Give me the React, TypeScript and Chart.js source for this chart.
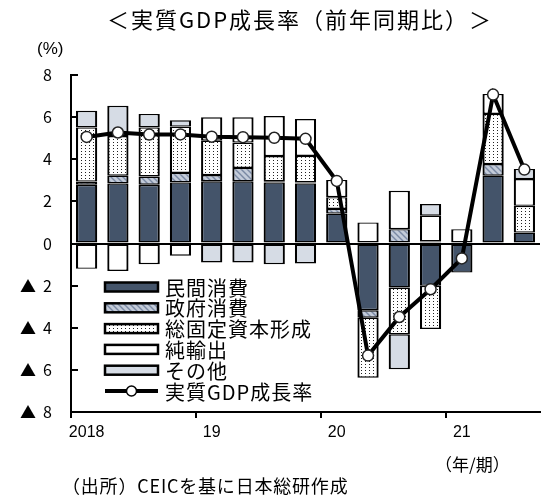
import React, { useEffect, useRef } from "react";
import { Chart, registerables } from "chart.js";

Chart.register(...registerables);

// ---- Data ----
const quarterLabels = ["2018", "", "", "", "19", "", "", "", "20", "", "", "", "21", "", ""];
const seriesNames = ["民間消費", "政府消費", "総固定資本形成", "純輸出", "その他"];
const gdpName = "実質GDP成長率";

const privateConsumption = [2.79, 2.85, 2.79, 2.9, 2.95, 2.95, 2.9, 2.85, 1.42, -3.17, -2.09, -2.01, -1.38, 3.22, 0.52];
const governmentConsumption = [0.15, 0.37, 0.39, 0.45, 0.3, 0.64, 0.05, 0.05, 0.22, -0.35, 0.68, 0.1, null, 0.55, null];
const fixedCapital = [2.57, 1.88, 2.33, 2.2, 1.63, 1.2, 1.2, 1.26, 0.56, -2.85, -2.22, -2.05, null, 2.38, 1.27];
const netExports = [-1.2, -1.3, -0.98, -0.58, 1.11, 1.2, 1.9, 1.75, 0.82, 1.0, 1.82, 1.22, 0.68, 0.95, 1.27];
const others = [0.79, 1.44, 0.64, 0.3, -0.9, -0.9, -0.98, -0.95, null, null, -1.66, 0.55, null, null, 0.48];
const gdpGrowth = [5.06, 5.27, 5.17, 5.18, 5.07, 5.05, 5.02, 4.97, 2.97, -5.32, -3.49, -2.17, -0.71, 7.07, 3.51];

const yMin = -8;
const yMax = 8;
const yStep = 2;

const TICK_FONT = "'Liberation Sans', 'Noto Sans CJK JP', sans-serif";
const JP_FONT = "'Noto Sans CJK JP', sans-serif";

function makeHatch(): CanvasPattern | string {
  const c = document.createElement("canvas");
  c.width = 6;
  c.height = 6;
  const g = c.getContext("2d");
  if (!g) return "#B4BECF";
  g.fillStyle = "#C3CBD9";
  g.fillRect(0, 0, 6, 6);
  g.strokeStyle = "#7A89A3";
  g.lineWidth = 1.4;
  g.beginPath();
  g.moveTo(-1, -1);
  g.lineTo(7, 7);
  g.moveTo(-4, 2);
  g.lineTo(4, 10);
  g.moveTo(2, -4);
  g.lineTo(10, 4);
  g.stroke();
  return g.createPattern(c, "repeat") || "#B4BECF";
}

function makeDots(): CanvasPattern | string {
  const c = document.createElement("canvas");
  c.width = 4;
  c.height = 3;
  const g = c.getContext("2d");
  if (!g) return "#ffffff";
  g.fillStyle = "#ffffff";
  g.fillRect(0, 0, 4, 3);
  g.fillStyle = "#222222";
  g.fillRect(1, 1, 1, 1);
  return g.createPattern(c, "repeat") || "#ffffff";
}

const legendPlugin = {
  id: "insideLegend",
  afterDatasetsDraw(chart: any) {
    const ctx = chart.ctx as CanvasRenderingContext2D;
    const area = chart.chartArea;
    const x0 = area.left + 34;
    const w = 53;
    const h = 9;
    const y0 = 287;
    const gap = 20.8;
    ctx.save();
    const bars = chart.data.datasets.filter((d: any) => d.type !== "line");
    const line = chart.data.datasets.find((d: any) => d.type === "line");
    const entries = [...bars, line];
    entries.forEach((ds: any, i: number) => {
      const cy = y0 + i * gap;
      if (ds.type === "line") {
        ctx.strokeStyle = "#000";
        ctx.lineWidth = 4;
        ctx.beginPath();
        ctx.moveTo(x0, cy);
        ctx.lineTo(x0 + w, cy);
        ctx.stroke();
        ctx.beginPath();
        ctx.arc(x0 + w / 2, cy, 5, 0, Math.PI * 2);
        ctx.fillStyle = "#fff";
        ctx.fill();
        ctx.lineWidth = 1.5;
        ctx.strokeStyle = "#000";
        ctx.stroke();
      } else {
        ctx.fillStyle = ds.backgroundColor;
        ctx.fillRect(x0, cy - h / 2, w, h);
        ctx.lineWidth = 2.5;
        ctx.strokeStyle = "#000";
        ctx.strokeRect(x0, cy - h / 2, w, h);
      }
      ctx.fillStyle = "#000";
      ctx.font = `20px ${JP_FONT}`;
      (ctx as any).letterSpacing = "1px";
      ctx.textAlign = "left";
      ctx.textBaseline = "middle";
      ctx.fillText(ds.label, x0 + w + 7, cy + 1);
    });
    ctx.restore();
  },
};

export default function App() {
  const canvasRef = useRef<HTMLCanvasElement | null>(null);

  useEffect(() => {
    const canvas = canvasRef.current;
    if (!canvas) return;
    const hatch = makeHatch();
    const dots = makeDots();
    const barCommon = {
      type: "bar" as const,
      borderColor: "#000",
      borderWidth: { top: 1.4, bottom: 1.4, left: 2.2, right: 2.2 },
      borderSkipped: false,
      barPercentage: 0.68,
      categoryPercentage: 1.0,
      stack: "contrib",
      order: 1,
    };
    const chart = new Chart(canvas, {
      type: "bar",
      data: {
        labels: quarterLabels,
        datasets: [
          { ...barCommon, label: seriesNames[0], data: privateConsumption, backgroundColor: "#44546A" },
          { ...barCommon, label: seriesNames[1], data: governmentConsumption, backgroundColor: hatch },
          { ...barCommon, label: seriesNames[2], data: fixedCapital, backgroundColor: dots },
          { ...barCommon, label: seriesNames[3], data: netExports, backgroundColor: "#FFFFFF" },
          { ...barCommon, label: seriesNames[4], data: others, backgroundColor: "#D6DCE5" },
          {
            type: "line" as const,
            label: gdpName,
            data: gdpGrowth,
            borderColor: "#000",
            borderWidth: 4,
            pointRadius: 5.5,
            pointBackgroundColor: "#fff",
            pointBorderColor: "#222",
            pointBorderWidth: 1.5,
            tension: 0,
            stack: "gdp",
            order: 0,
          } as any,
        ],
      },
      options: {
        responsive: false,
        animation: false,
        devicePixelRatio: 1,
        layout: { padding: { left: 0, right: 5, top: 75, bottom: 47 } },
        plugins: {
          legend: { display: false },
          title: { display: false },
          tooltip: { enabled: false },
        },
        scales: {
          x: {
            type: "category",
            stacked: true,
            offset: true,
            grid: {
              offset: true,
              drawOnChartArea: false,
              drawTicks: true,
              tickLength: 6,
              lineWidth: 2,
              color: (c: any) => (c.index !== undefined && c.index % 4 === 0 ? "#000" : "rgba(0,0,0,0)"),
              tickColor: (c: any) => (c.index !== undefined && c.index % 4 === 0 ? "#000" : "rgba(0,0,0,0)"),
            },
            border: { color: "#000", width: 2 },
            ticks: {
              autoSkip: false,
              maxRotation: 0,
              minRotation: 0,
              padding: 5,
              color: "#000",
              font: { family: TICK_FONT, size: 16 },
            },
            afterFit: (s: any) => {
              s.height = 40;
            },
          },
          y: {
            stacked: true,
            min: yMin,
            max: yMax,
            ticks: {
              stepSize: yStep,
              padding: 26,
              color: "#000",
              font: { family: JP_FONT, size: 16 },
              callback: (v: any) => (Number(v) < 0 ? "▲  " + Math.abs(Number(v)) : String(v)),
            },
            grid: {
              drawOnChartArea: true,
              drawTicks: true,
              tickLength: -7,
              lineWidth: 2,
              color: (c: any) => (c.tick && c.tick.value === 0 ? "#000" : "rgba(0,0,0,0)"),
              tickColor: "#000",
            },
            border: { color: "#000", width: 2 },
            afterFit: (s: any) => {
              s.width = 71;
            },
          },
        },
      },
      plugins: [legendPlugin],
    } as any);
    return () => {
      chart.destroy();
    };
  }, []);

  const textBase: React.CSSProperties = {
    position: "absolute",
    fontFamily: JP_FONT,
    color: "#000",
    lineHeight: 1,
    whiteSpace: "nowrap",
  };

  return (
    <div style={{ position: "absolute", left: 0, top: 0, width: 547, height: 499, background: "#fff", overflow: "hidden" }}>
      <canvas ref={canvasRef} width={547} height={499} style={{ position: "absolute", left: 0, top: 0, width: 547, height: 499 }} />
      <div style={{ ...textBase, left: 100, width: 400, top: 7, fontSize: 22, letterSpacing: 2, textAlign: "center" }}>
        ＜実質GDP成長率（前年同期比）＞
      </div>
      <div style={{ ...textBase, left: 37, top: 40, fontSize: 17, fontFamily: TICK_FONT }}>(%)</div>
      <div style={{ ...textBase, left: 435, top: 455, fontSize: 17 }}>（年/期）</div>
      <div style={{ ...textBase, left: 62, top: 476, fontSize: 18, letterSpacing: 0.8 }}>（出所）CEICを基に日本総研作成</div>
    </div>
  );
}
